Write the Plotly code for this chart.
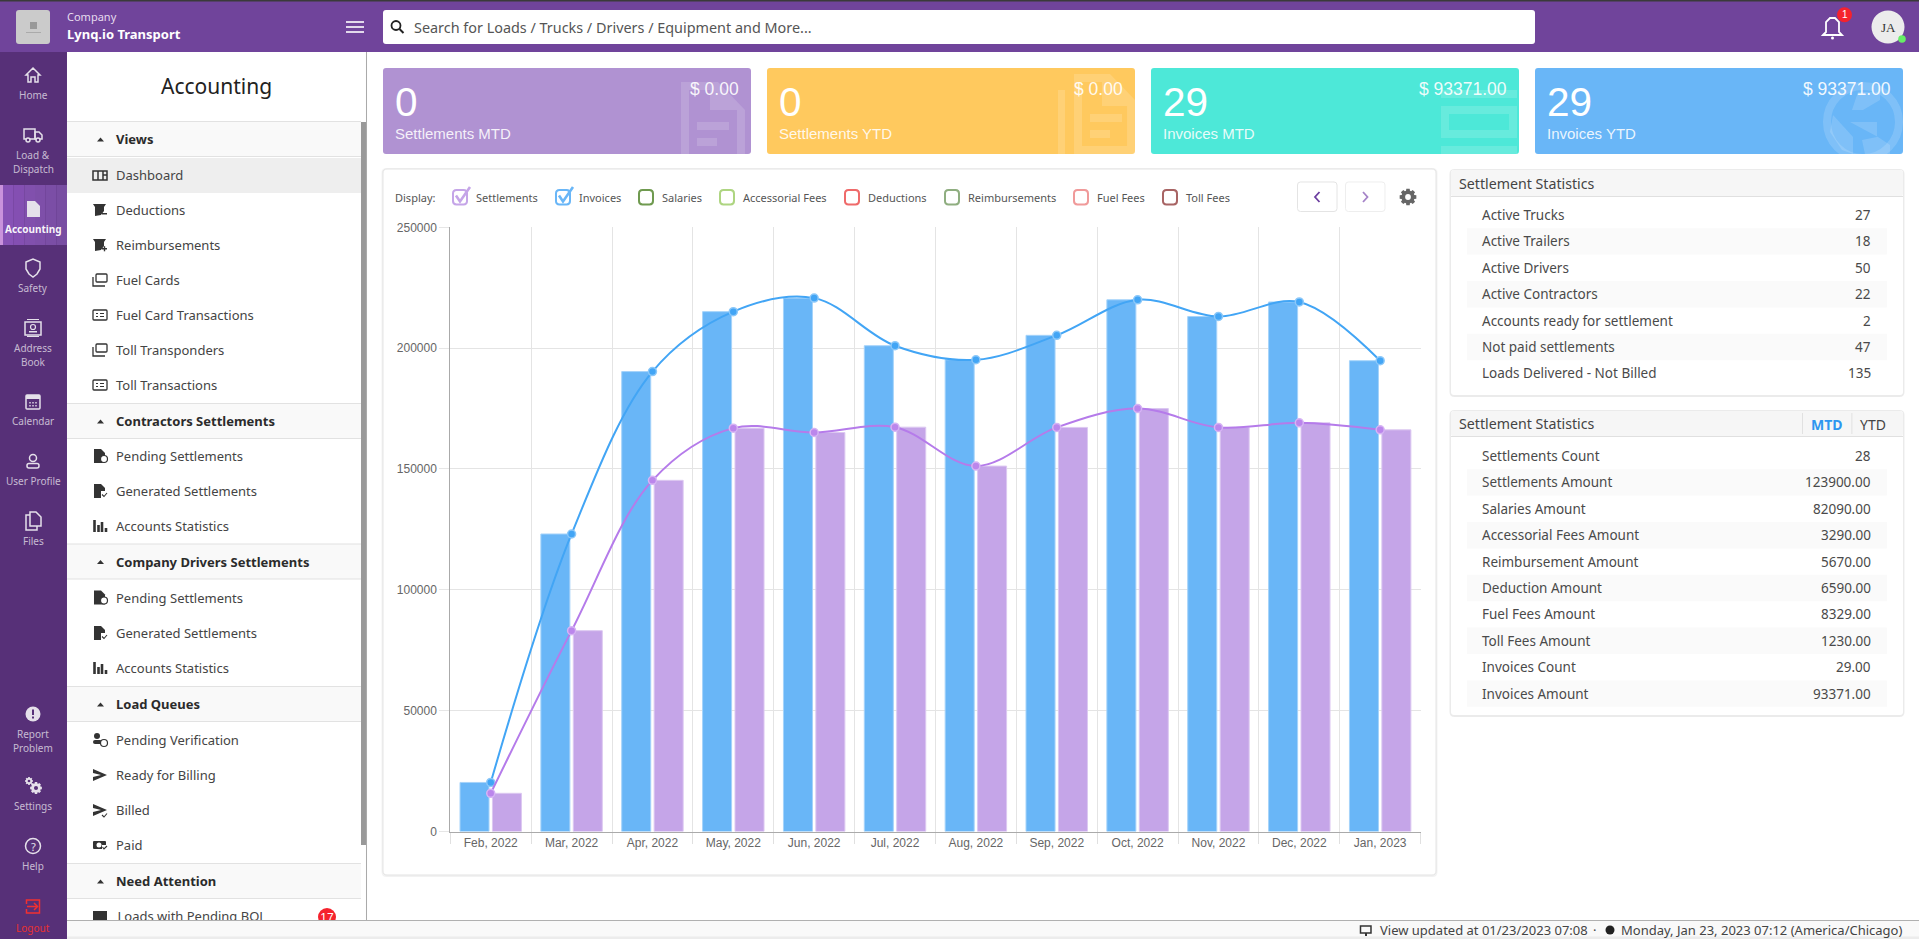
import math
import plotly.graph_objects as go

W = 1919
H = 939

months = ["Feb, 2022", "Mar, 2022", "Apr, 2022", "May, 2022", "Jun, 2022", "Jul, 2022",
          "Aug, 2022", "Sep, 2022", "Oct, 2022", "Nov, 2022", "Dec, 2022", "Jan, 2023"]
invoices = [20300, 123100, 190300, 215100, 220700, 201000, 195200, 205300, 220000, 213100, 219100, 194800]
settlements = [15800, 83100, 145300, 166900, 165100, 167300, 151200, 167200, 175000, 167200, 169100, 166200]

legend_names = ["Settlements", "Invoices", "Salaries", "Accessorial Fees", "Deductions",
                "Reimbursements", "Fuel Fees", "Toll Fees"]
legend_colors = ["#c5a5e8", "#69b6f7", "#6f9a4f", "#aed581", "#ef6a6a", "#8fae80", "#f09a9a", "#a86464"]
legend_box_x = [453, 556, 639, 720, 845, 945, 1074, 1163]

kpi_values = ["0", "0", "29", "29"]
kpi_amounts = ["$ 0.00", "$ 0.00", "$ 93371.00", "$ 93371.00"]
kpi_labels = ["Settlements MTD", "Settlements YTD", "Invoices MTD", "Invoices YTD"]
kpi_colors = ["#b092d2", "#ffc95e", "#4de8d8", "#69b6f7"]
kpi_left = [383, 767, 1151, 1535]

stats_names = ["Active Trucks", "Active Trailers", "Active Drivers", "Active Contractors",
               "Accounts ready for settlement", "Not paid settlements", "Loads Delivered - Not Billed"]
stats_values = ["27", "18", "50", "22", "2", "47", "135"]
amount_names = ["Settlements Count", "Settlements Amount", "Salaries Amount", "Accessorial Fees Amount",
                "Reimbursement Amount", "Deduction Amount", "Fuel Fees Amount", "Toll Fees Amount",
                "Invoices Count", "Invoices Amount"]
amount_values = ["28", "123900.00", "82090.00", "3290.00", "5670.00", "6590.00", "8329.00", "1230.00",
                 "29.00", "93371.00"]

# (label, y, icon)
menu_items = [("Dashboard", 175, "grid"), ("Deductions", 210, "receipt"), ("Reimbursements", 245, "receipt"),
              ("Fuel Cards", 280, "cards"), ("Fuel Card Transactions", 315, "card"),
              ("Toll Transponders", 350, "cards"), ("Toll Transactions", 385, "card"),
              ("Pending Settlements", 456, "doc"), ("Generated Settlements", 491, "doc"),
              ("Accounts Statistics", 526, "bars"), ("Pending Settlements", 597.5, "doc"),
              ("Generated Settlements", 633, "doc"), ("Accounts Statistics", 668, "bars"),
              ("Pending Verification", 740, "person"), ("Ready for Billing", 775, "send"),
              ("Billed", 810, "send"), ("Paid", 845, "money")]
menu_headers = [("Views", 139), ("Contractors Settlements", 421), ("Company Drivers Settlements", 561.5),
                ("Load Queues", 704), ("Need Attention", 881)]

rail_items = [(["Home"], 75, "home"), (["Load &", "Dispatch"], 135, "truck"), (["Accounting"], 209, "file"),
              (["Safety"], 268, "shield"), (["Address", "Book"], 328, "book"), (["Calendar"], 401, "calendar"),
              (["User Profile"], 461, "user"), (["Files"], 521, "files"), (["Report", "Problem"], 714, "alert"),
              (["Settings"], 786, "gears"), (["Help"], 846, "help")]

shapes = []
notes = []


def px(x):
    return x / W


def py(y):
    return 1 - y / H


def path(points, close=True):
    s = "M " + " L ".join(f"{px(x):.5f},{py(y):.5f}" for x, y in points)
    return s + (" Z" if close else "")


def rr_path(x0, y0, x1, y1, r):
    p = lambda x, y: f"{px(x):.5f},{py(y):.5f}"
    return (f"M {p(x0 + r, y0)} L {p(x1 - r, y0)} Q {p(x1, y0)} {p(x1, y0 + r)} "
            f"L {p(x1, y1 - r)} Q {p(x1, y1)} {p(x1 - r, y1)} L {p(x0 + r, y1)} "
            f"Q {p(x0, y1)} {p(x0, y1 - r)} L {p(x0, y0 + r)} Q {p(x0, y0)} {p(x0 + r, y0)} Z")


def rect(x0, y0, x1, y1, fill, line=None, r=0, lw=1):
    shapes.append(dict(type="path", path=rr_path(x0, y0, x1, y1, r) if r else path(
        [(x0, y0), (x1, y0), (x1, y1), (x0, y1)]), xref="paper", yref="paper", fillcolor=fill,
        line=dict(color=line or "rgba(0,0,0,0)", width=lw if line else 0), layer="below"))


def poly(points, fill=None, line=None, lw=1.5, close=True):
    shapes.append(dict(type="path", path=path(points, close), xref="paper", yref="paper",
                       fillcolor=fill or "rgba(0,0,0,0)",
                       line=dict(color=line or "rgba(0,0,0,0)", width=lw if line else 0), layer="below"))


def circle(cx, cy, r, fill=None, line=None, lw=1.5):
    shapes.append(dict(type="circle", x0=px(cx - r), x1=px(cx + r), y0=py(cy + r), y1=py(cy - r),
                       xref="paper", yref="paper", fillcolor=fill or "rgba(0,0,0,0)",
                       line=dict(color=line or "rgba(0,0,0,0)", width=lw if line else 0), layer="below"))


def text(x, y, s, size=13, color="#444", anchor="left", font="Noto Sans", bold=False):
    if anchor == "left":
        x -= 1
    notes.append(dict(x=px(x), y=py(y), xref="paper", yref="paper", text=f"<b>{s}</b>" if bold else s,
                      showarrow=False, xanchor=anchor, yanchor="middle", borderpad=0,
                      font=dict(family=font, size=size, color=color)))


def gear(cx, cy, r, color, hole="#573078"):
    pts = []
    for i in range(8):
        a = i * math.pi / 4
        for da, rad in [(-0.3, 0.78), (-0.2, 1.0), (0.2, 1.0), (0.3, 0.78)]:
            pts.append((cx + r * rad * math.cos(a + da), cy + r * rad * math.sin(a + da)))
    poly(pts, fill=color)
    circle(cx, cy, r * 0.34, fill=hole)


def rail_icon(kind, cx, cy, c):
    if kind == "home":
        poly([(cx - 7, cy), (cx, cy - 7), (cx + 7, cy), (cx + 5, cy), (cx + 5, cy + 7), (cx + 2, cy + 7),
              (cx + 2, cy + 2), (cx - 2, cy + 2), (cx - 2, cy + 7), (cx - 5, cy + 7), (cx - 5, cy)], line=c)
    elif kind == "truck":
        rect(cx - 9, cy - 6, cx + 2, cy + 4, "rgba(0,0,0,0)", c, lw=1.5)
        poly([(cx + 2, cy - 3), (cx + 6, cy - 3), (cx + 9, cy), (cx + 9, cy + 4), (cx + 2, cy + 4)], line=c)
        circle(cx - 5, cy + 5, 2, fill="#573078", line=c)
        circle(cx + 5, cy + 5, 2, fill="#573078", line=c)
    elif kind == "file":
        poly([(cx - 6, cy - 8), (cx + 2, cy - 8), (cx + 7, cy - 3), (cx + 7, cy + 8), (cx - 6, cy + 8)], fill=c)
    elif kind == "shield":
        poly([(cx - 7, cy - 6), (cx, cy - 9), (cx + 7, cy - 6), (cx + 7, cy + 1), (cx + 4, cy + 6), (cx, cy + 9),
              (cx - 4, cy + 6), (cx - 7, cy + 1)], line=c)
    elif kind == "book":
        rect(cx - 8, cy - 6, cx + 8, cy + 7, "rgba(0,0,0,0)", c, lw=1.5)
        rect(cx - 6, cy - 9, cx + 6, cy - 8, c)
        rect(cx - 6, cy + 8, cx + 6, cy + 9, c)
        circle(cx, cy - 1, 2.5, line=c, lw=1.2)
        rect(cx - 4, cy + 3, cx + 4, cy + 4.5, c)
    elif kind == "calendar":
        rect(cx - 7, cy - 6, cx + 7, cy + 8, "rgba(0,0,0,0)", c, r=1, lw=1.5)
        rect(cx - 7, cy - 6, cx + 7, cy - 2, c)
        for dx in (-3, 0, 3):
            rect(cx + dx - 0.7, cy + 1, cx + dx + 0.7, cy + 2.4, c)
            rect(cx + dx - 0.7, cy + 4, cx + dx + 0.7, cy + 5.4, c)
    elif kind == "user":
        circle(cx, cy - 3, 3.5, line=c)
        rect(cx - 6, cy + 2.5, cx + 6, cy + 7, "rgba(0,0,0,0)", c, r=2, lw=1.5)
    elif kind == "files":
        poly([(cx - 3, cy - 9), (cx + 3, cy - 9), (cx + 8, cy - 4), (cx + 8, cy + 5), (cx - 3, cy + 5)], line=c)
        poly([(cx - 3, cy - 6), (cx - 7, cy - 6), (cx - 7, cy + 9), (cx + 4, cy + 9), (cx + 4, cy + 5)],
             line=c, close=False)
    elif kind == "alert":
        circle(cx, cy, 7.5, fill=c)
        rect(cx - 1, cy - 4.5, cx + 1, cy + 1, "#573078")
        rect(cx - 1, cy + 2.5, cx + 1, cy + 4.5, "#573078")
    elif kind == "gears":
        gear(cx - 4, cy - 5, 4, c)
        gear(cx + 3, cy + 2, 6, c)
    elif kind == "help":
        circle(cx, cy, 7.5, line=c)
        text(cx, cy, "?", 11, c, "center")


def menu_icon(kind, cx, cy, label):
    c = "#333333"
    if kind == "grid":
        rect(cx - 7, cy - 4, cx + 7, cy + 5, "rgba(0,0,0,0)", c, lw=1.5)
        poly([(cx - 2, cy - 4), (cx - 2, cy + 5)], line=c, close=False)
        poly([(cx + 3, cy - 4), (cx + 3, cy + 5)], line=c, close=False)
        poly([(cx + 3, cy), (cx + 7, cy)], line=c, close=False)
    elif kind == "receipt":
        poly([(cx - 7, cy - 6), (cx + 6, cy - 6), (cx + 4, cy - 3), (cx + 4, cy + 1), (cx + 1, cy + 5),
              (cx - 5, cy + 6), (cx - 5, cy - 3)], fill=c)
        rect(cx + 2, cy + 3, cx + 7, cy + 4.5, c)
        if label == "Reimbursements":
            rect(cx + 3.8, cy + 1.2, cx + 5.2, cy + 6.3, c)
    elif kind == "cards":
        rect(cx - 4, cy - 6, cx + 7, cy + 2, "rgba(0,0,0,0)", c, r=1, lw=1.3)
        poly([(cx - 7, cy - 3), (cx - 7, cy + 6), (cx + 5, cy + 6)], line=c, lw=1.3, close=False)
    elif kind == "card":
        rect(cx - 7, cy - 5, cx + 7, cy + 5, "rgba(0,0,0,0)", c, r=1, lw=1.3)
        rect(cx - 4, cy - 2, cx - 2, cy - 1, c)
        rect(cx, cy - 2, cx + 4, cy - 1, c)
        rect(cx - 4, cy + 1, cx - 2, cy + 2, c)
        rect(cx, cy + 1, cx + 4, cy + 2, c)
    elif kind == "doc":
        poly([(cx - 6, cy - 7), (cx + 1, cy - 7), (cx + 5, cy - 3), (cx + 5, cy + 7), (cx - 6, cy + 7)], fill=c)
        if label.startswith("Pending"):
            circle(cx + 4, cy + 3, 3.5, fill="#ffffff", line=c, lw=1.2)
        else:
            rect(cx + 1, cy, cx + 8, cy + 7, "#ffffff")
            poly([(cx + 2, cy + 3.5), (cx + 4, cy + 5.5), (cx + 7, cy + 2)], line=c, lw=1.1, close=False)
    elif kind == "bars":
        for dx, h in zip((-5.5, -1.5, 2, 6), (12, 7, 10, 4)):
            rect(cx + dx - 1.3, cy + 6 - h, cx + dx + 1.3, cy + 6, c)
    elif kind == "person":
        circle(cx - 3, cy - 4, 3, fill=c)
        rect(cx - 7, cy, cx + 2, cy + 4, c, r=2)
        circle(cx + 4, cy + 3, 3.5, fill="#ffffff", line=c, lw=1.2)
    elif kind == "send":
        poly([(cx - 7, cy - 6), (cx + 7, cy), (cx - 7, cy + 6), (cx - 7, cy + 2), (cx + 1, cy), (cx - 7, cy - 2)], fill=c)
        if label == "Billed":
            rect(cx + 1, cy + 3, cx + 8, cy + 8, "#ffffff")
            poly([(cx + 2, cy + 5), (cx + 4, cy + 7), (cx + 7, cy + 3.5)], line=c, lw=1.1, close=False)
    elif kind == "money":
        rect(cx - 7, cy - 4, cx + 6, cy + 4, c, r=1)
        circle(cx - 1, cy, 2.5, fill="#ffffff")
        rect(cx + 2, cy, cx + 8, cy + 6, "#ffffff")
        poly([(cx + 2.5, cy + 2), (cx + 4, cy + 4), (cx + 7, cy + 1)], line=c, lw=1.1, close=False)


# top bar and page frame
rect(0, 0, W, 52, "#70449b")
rect(0, 0, W, 1.5, "#3a3a3a")
rect(16, 10, 50, 44, "#cbcbcb", r=3)
rect(30, 22, 37, 29, "#999999")
rect(26, 32, 41, 33, "#aaaaaa")
text(67, 17, "Company", 11, "#e6dcef")
text(67, 34.5, "Lynq.io Transport", 13, "#ffffff", bold=True)
for y in (22, 27, 32):
    rect(346, y - 0.8, 364, y + 0.8, "#ffffff")
rect(383, 10, 1535, 44, "#ffffff", r=3)
circle(396, 25.5, 4.5, line="#222222", lw=1.8)
poly([(399.5, 29), (403.5, 33)], line="#222222", lw=2, close=False)
text(414, 27, "Search for Loads / Trucks / Drivers / Equipment and More...", 14.4, "#555555")
poly([(1823, 35), (1826, 32), (1826, 22), (1830, 18), (1835, 18), (1839, 22), (1839, 32), (1842, 35)],
     line="#ffffff", lw=1.8)
circle(1832.5, 38, 1.5, fill="#ffffff")
circle(1844.5, 14.7, 7.5, fill="#f5222d")
text(1844.5, 14.7, "1", 10, "#ffffff", "center", "Liberation Sans")
circle(1888, 27, 16.5, fill="#ececec")
text(1888, 27, "JA", 13, "#333333", "center", "Liberation Serif")
circle(1902, 39, 3.8, fill="#66ee66")

# left rail
rect(0, 52, 67, H, "#573078")
for i in range(6):
    rect(3 + i * 64 / 6, 185, 3 + (i + 1) * 64 / 6, 245, ["#8752b6", "#844fb2", "#8150ad", "#7e4fa9", "#7b4ea6", "#784da2"][i])
rect(0, 185, 3, 245, "#c992dc")
for labels, cy, icon in rail_items:
    active = icon == "file"
    rail_icon(icon, 33, cy, "#e5e0ea")
    for i, label in enumerate(labels):
        text(33, cy + 20 + 14 * i, label, 10,
             "rgba(255,255,255,0.95)" if active else "rgba(255,255,255,0.68)", "center", bold=active)
rect(26.5, 900, 39.5, 913, "rgba(0,0,0,0)", "#f23030", lw=1.5)
rect(24, 904, 28, 909, "#573078")
poly([(27, 906.5), (37, 906.5)], line="#f23030", lw=1.5, close=False)
poly([(34, 903), (37.5, 906.5), (34, 910)], line="#f23030", lw=1.5, close=False)
text(33, 928, "Logout", 10, "#e83030", "center")

# accounting menu panel
rect(67, 52, 366, 920, "#ffffff")
text(216, 86, "Accounting", 21, "#222222", "center")
rect(67, 158, 361, 193, "#eeeeee")
for name, y in menu_headers:
    rect(67, y - 17.5, 361, y + 17.5, "#f9f9f9")
    rect(67, y - 18, 361, y - 17, "#e2e2e2")
    rect(67, y + 17, 361, y + 18, "#e2e2e2")
    poly([(97, y + 2.5), (100.5, y - 1.5), (104, y + 2.5)], fill="#333333")
    text(115.5, y, name, 13, "#2b2b2b", bold=True)
for name, y, icon in menu_items:
    menu_icon(icon, 100, y, name)
    text(115.5, y, name, 13, "#444444")

# this row is cut by the footer, so it is a shape label underneath the footer rect
shapes.append(dict(type="path", path=path([(93, 911), (107, 911), (107, 925), (93, 925)]), xref="paper",
                   yref="paper", fillcolor="#333333", line=dict(width=0), layer="below"))
shapes.append(dict(type="rect", x0=px(114.5), x1=px(300), y0=py(926), y1=py(908), xref="paper", yref="paper",
                   fillcolor="rgba(0,0,0,0)", line=dict(width=0), layer="below",
                   label=dict(text="Loads with Pending BOL", textposition="middle left", padding=0,
                              font=dict(family="Noto Sans", size=13, color="#444444"))))
shapes.append(dict(type="circle", x0=px(318), x1=px(336), y0=py(926), y1=py(908), xref="paper", yref="paper",
                   fillcolor="#f5222d", line=dict(width=0), layer="below",
                   label=dict(text="17", textposition="middle center", padding=0,
                              font=dict(family="Liberation Sans", size=12, color="#ffffff"))))
rect(361, 122, 366, 845, "#999999")
rect(366, 52, 367, 920, "#aaaaaa")

# footer
rect(67, 920, W, H, "#f9f9f9")
rect(67, 920, W, 921, "#b0b0b0")
rect(67, 936.5, W, H, "#ececec")
rect(1360.5, 926, 1371, 933, "rgba(0,0,0,0)", "#333333", lw=1.5)
rect(1365, 933, 1367, 936, "#333333")
text(1380, 930, "View updated at 01/23/2023 07:08", 13, "#444444")
text(1594, 930, "·", 13, "#444444", "center")
circle(1610, 930, 4.5, fill="#222222")
text(1621, 930, "Monday, Jan 23, 2023 07:12 (America/Chicago)", 13, "#444444")

# kpi cards
for i in range(4):
    x0 = kpi_left[i]
    rect(x0, 68, x0 + 368, 154, kpi_colors[i], r=3)
wm = "rgba(255,255,255,0.15)"
shapes.append(dict(type="path", xref="paper", yref="paper", layer="below", fillcolor=wm, line=dict(width=0),
                   path=path([(681, 154), (681, 82), (718, 82), (745, 110), (745, 154), (737, 154), (737, 110),
                              (710, 110), (710, 90), (689, 90), (689, 154)])))
rect(697, 122, 729, 130, wm)
rect(697, 138, 717, 146, wm)
rect(1058, 90, 1065, 154, wm)
shapes.append(dict(type="path", xref="paper", yref="paper", layer="below", fillcolor=wm, line=dict(width=0),
                   path=path([(1074, 154), (1074, 74), (1110, 74), (1135, 100), (1135, 154), (1074, 154),
                              (1082, 146), (1127, 146), (1127, 106), (1102, 106), (1102, 82), (1082, 82), (1082, 146)])))
rect(1090, 114, 1122, 122, wm)
rect(1090, 130, 1110, 138, wm)
rect(1441, 90, 1517, 98, wm)
shapes.append(dict(type="path", xref="paper", yref="paper", layer="below", fillcolor=wm, line=dict(width=0),
                   path=path([(1441, 106), (1517, 106), (1517, 138), (1441, 138), (1441, 106), (1449, 114),
                              (1449, 130), (1509, 130), (1509, 114), (1449, 114)])))
rect(1441, 146, 1517, 154, wm)
circle(1863, 122, 36, line=wm, lw=8)
poly([(1833, 115), (1853, 137), (1853, 154), (1842, 150), (1830, 132)], fill=wm)
poly([(1850, 122), (1877, 122), (1877, 137), (1862, 140), (1865, 154), (1890, 154), (1890, 145), (1878, 137)], fill=wm)
poly([(1858, 92), (1880, 92), (1880, 100), (1863, 110), (1852, 110)], fill=wm)
rect(1820, 154, 1903, 168, "#ffffff")

for i in range(4):
    x0 = kpi_left[i]
    text(x0 + 12, 102, kpi_values[i], 40.5, "#ffffff", font="Liberation Sans")
    text(x0 + 12, 133.5, kpi_labels[i], 15, "rgba(255,255,255,0.88)", font="Liberation Sans")
    text(x0 + 357, 89, kpi_amounts[i], 17.5, "rgba(255,255,255,0.92)", "right", "Liberation Sans")

# chart card
rect(381.5, 168, 1437.5, 877, "rgba(0,0,0,0.05)", r=5)
rect(383, 169, 1436, 875, "#ffffff", "#e4e4e4", r=4)
text(395, 197, "Display:", 11, "#555555")
for i, name in enumerate(legend_names):
    bx = legend_box_x[i]
    rect(bx, 190, bx + 14, 204.5, "rgba(0,0,0,0)", legend_colors[i], r=3.5, lw=2)
    text(bx + 23, 197, name, 11, "#555555")
    if i < 2:
        poly([(bx + 3, 195.5), (bx + 7, 201.5), (bx + 17, 187)], line=legend_colors[i], lw=2.6, close=False)
rect(1297.5, 182, 1337, 211.5, "#ffffff", "#e4e4e4", r=3)
rect(1345.5, 182, 1385, 211.5, "#ffffff", "#eeeeee", r=3)
poly([(1319.5, 192), (1315, 197), (1319.5, 202)], line="#6c3fa0", lw=1.8, close=False)
poly([(1363, 192), (1367.5, 197), (1363, 202)], line="#a583c8", lw=1.8, close=False)
gear(1408, 197, 8.5, "#666666", "#ffffff")

# statistics panels
for y0, y1, head_bottom in [(170, 395, 196.5), (411, 715, 436.5)]:
    rect(1449.5, y0 - 1, 1904.5, y1 + 2, "rgba(0,0,0,0.08)", r=5)
    rect(1451, y0, 1903, y1, "#ffffff", r=3)
    rect(1451, y0, 1903, head_bottom, "#f6f6f6", r=3)
    rect(1451, head_bottom - 0.5, 1903, head_bottom + 0.5, "#e0e0e0")
    text(1459, (y0 + head_bottom) / 2, "Settlement Statistics", 14.2, "#444444")
for i, (name, value) in enumerate(zip(stats_names, stats_values)):
    y = 215 + i * 26.4
    if i % 2:
        rect(1467, y - 13.2, 1887, y + 13.2, "#fafafa")
    text(1482, y, name, 13.5, "#4a4a4a")
    text(1872, y, value, 13.5, "#4a4a4a", "right")
for i, (name, value) in enumerate(zip(amount_names, amount_values)):
    y = 456 + i * 26.4
    if i % 2:
        rect(1467, y - 13.2, 1887, y + 13.2, "#fafafa")
    text(1482, y, name, 13.5, "#4a4a4a")
    text(1872, y, value, 13.5, "#4a4a4a", "right")
rect(1802, 413, 1802.8, 434, "#dddddd")
rect(1851.5, 413, 1852.3, 434, "#dddddd")
text(1827, 424, "MTD", 14, "#2e96f0", "center", bold=True)
text(1873, 424, "YTD", 14, "#444444", "center")

fig = go.Figure()
fig.add_trace(go.Bar(x=months, y=invoices, name="Invoices",
                     marker=dict(color="#69b6f7", line=dict(color="#a5d3fa", width=1))))
fig.add_trace(go.Bar(x=months, y=settlements, name="Settlements",
                     marker=dict(color="#c5a5e8", line=dict(color="#dcc8f1", width=1))))
fig.add_trace(go.Scatter(x=months, y=invoices, mode="lines+markers", name="Invoices",
                         line=dict(color="#42a5f5", width=2, shape="spline", smoothing=1),
                         marker=dict(size=8, color="#42a5f5", line=dict(color="#8cc8f9", width=1.5))))
fig.add_trace(go.Scatter(x=months, y=settlements, mode="lines+markers", name="Settlements",
                         line=dict(color="#b57bea", width=2, shape="spline", smoothing=1),
                         marker=dict(size=8, color="#bb86ec", line=dict(color="#d6b4f4", width=1.5))))

fig.update_layout(
    width=W,
    height=H,
    margin=dict(l=0, r=0, t=0, b=0, autoexpand=False),
    paper_bgcolor="#ffffff",
    plot_bgcolor="rgba(0,0,0,0)",
    barmode="group",
    bargap=0.198,
    bargroupgap=0.105,
    showlegend=False,
    shapes=shapes,
    annotations=notes,
    xaxis=dict(domain=[px(450.3), px(1420.6)], type="category", tickson="boundaries", range=[-0.5, 11.5],
               showgrid=True, gridcolor="#e4e4e4", showline=True, linecolor="#aaaaaa", linewidth=1.2,
               ticks="outside", ticklen=11, tickcolor="#e0e0e0", tickangle=0,
               tickfont=dict(family="Liberation Sans", size=12, color="#666666")),
    yaxis=dict(domain=[py(831.5), py(227.3)], range=[0, 250000], dtick=50000, tickformat="d",
               showgrid=True, gridcolor="#e4e4e4", zeroline=False, showline=True, linecolor="#aaaaaa", linewidth=1,
               ticks="outside", ticklen=10, tickcolor="#e6e6e6",
               tickfont=dict(family="Liberation Sans", size=12, color="#666666")),
)

fig.write_html("out.html", post_script="document.body.style.margin='0';document.body.style.overflow='hidden';",
               config=dict(displayModeBar=False))
